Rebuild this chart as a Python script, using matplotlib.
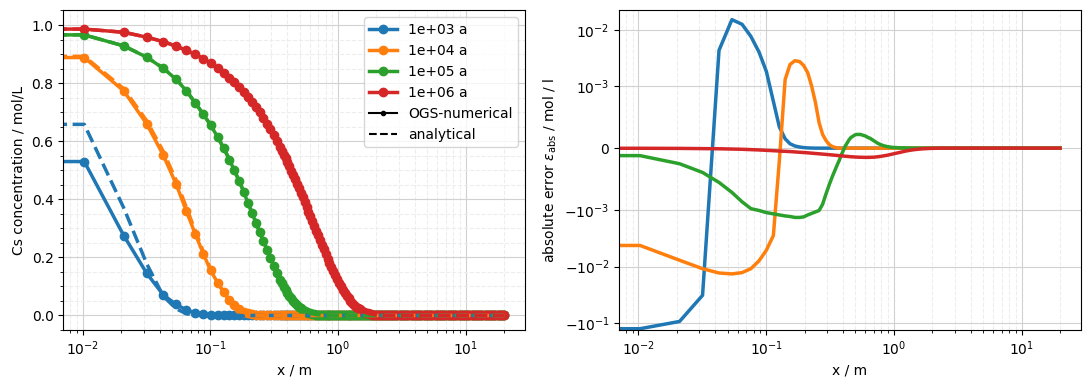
import numpy as np
import matplotlib.pyplot as plt
from matplotlib.lines import Line2D

# output times in years
times = [1e3, 1e4, 1e5, 1e6]

# mesh points (m): fine near the inlet, the front region, and the tail where everything is ~0
x_near = [0, 0.0103, 0.021, 0.0318, 0.0428, 0.054, 0.0648, 0.076, 0.088, 0.1005,
          0.114, 0.127, 0.141, 0.154, 0.168, 0.183, 0.197, 0.212, 0.227, 0.243,
          0.26, 0.277, 0.295, 0.313, 0.331]
x_mid = [0.35, 0.362, 0.375, 0.388, 0.402, 0.416, 0.43, 0.445, 0.461, 0.477,
         0.494, 0.511, 0.529, 0.548, 0.567, 0.587, 0.607, 0.628, 0.65, 0.673,
         0.697, 0.721, 0.746, 0.772, 0.8, 0.828, 0.857, 0.887, 0.918, 0.95,
         0.983, 1.017, 1.053, 1.09, 1.128, 1.168, 1.209, 1.251, 1.295, 1.34,
         1.387, 1.436, 1.486, 1.538, 1.592, 1.648, 1.705, 1.765, 1.827, 1.891,
         1.957, 2.025, 2.096, 2.17, 2.245]
x_tail = [2.32, 2.41, 2.5, 2.6, 2.7, 2.81, 2.92, 3.04, 3.16, 3.29, 3.42, 3.56,
          3.7, 3.85, 4.0, 4.16, 4.33, 4.5, 4.68, 4.87, 5.07, 5.27, 5.48, 5.7,
          5.93, 6.17, 6.41, 6.67, 6.94, 7.21, 7.5, 7.8, 8.12, 8.44, 8.78, 9.13,
          9.5, 9.88, 10.27, 10.68, 11.11, 11.55, 12.01, 12.49, 12.99, 13.51,
          14.05, 14.61, 15.2, 15.8, 16.44, 17.1, 17.78, 18.49, 19.23, 20.0]

# OGS numerical Cs concentration (mol/L)
c_1e3 = [0.53, 0.53, 0.275, 0.145, 0.071, 0.038, 0.019, 0.0085, 0.0045, 0.0021,
         0.0009, 0.0004, 0.00017, 0.00008, 0.00004, 0.00002, 0.00001, 0.000005, 0.000003]
c_1e4 = [0.888, 0.888, 0.773, 0.659, 0.552, 0.452, 0.36, 0.282, 0.213, 0.155,
         0.113, 0.080, 0.054, 0.036, 0.022, 0.013, 0.0075, 0.004, 0.002, 0.001,
         0.0005, 0.00025, 0.00013, 0.00006, 0.00003, 0.00001]
c_1e5 = [0.966, 0.966, 0.928, 0.889, 0.851, 0.813, 0.774, 0.732, 0.693, 0.655,
         0.615, 0.575, 0.537, 0.50, 0.462, 0.425, 0.387, 0.353, 0.320, 0.287,
         0.256, 0.227, 0.199, 0.172, 0.147,
         0.123, 0.111, 0.099, 0.087, 0.077, 0.068, 0.059, 0.051, 0.043, 0.036,
         0.030, 0.025, 0.020, 0.016, 0.0128, 0.010, 0.0078, 0.006, 0.0046, 0.0034,
         0.0025, 0.0018, 0.0013, 0.0009, 0.0006, 0.0004, 0.00027, 0.00018, 0.00012, 0.00008,
         0.00005, 0.00003, 0.00002, 0.00001]
c_1e6 = [0.989, 0.986, 0.975, 0.958, 0.943, 0.927, 0.913, 0.899, 0.884, 0.868,
         0.851, 0.835, 0.818, 0.803, 0.786, 0.768, 0.752, 0.734, 0.717, 0.699,
         0.679, 0.660, 0.641, 0.621, 0.601,
         0.581, 0.568, 0.554, 0.541, 0.527, 0.513, 0.499, 0.484, 0.469, 0.454,
         0.438, 0.423, 0.407, 0.390, 0.374, 0.358, 0.342, 0.326, 0.309, 0.292,
         0.276, 0.260, 0.244, 0.228, 0.212, 0.196, 0.181, 0.166, 0.152, 0.1385,
         0.1254, 0.1129, 0.1008, 0.0894, 0.0787, 0.0688, 0.0598, 0.0515, 0.0438, 0.0369,
         0.0308, 0.0252, 0.0207, 0.0167, 0.0132, 0.0103, 0.0080, 0.0059, 0.0045, 0.0034,
         0.0024, 0.0017, 0.0012, 0.0008, 0.0005]

# absolute error numerical - analytical (mol/l)
err_1e3 = [-0.128, -0.128, -0.095, -0.0325, 0.0043, 0.0151, 0.0125, 0.0076, 0.0040, 0.0018,
           0.00075, 0.00034, 0.00015, 0.00007, 0.000035, 0.000018, 0.000009, 0.000004, 0.000002]
err_1e4 = [-0.0042, -0.0042, -0.0077, -0.0109, -0.013, -0.0135, -0.0128, -0.0109, -0.0079, -0.0051,
           -0.0028, -0.0002, 0.0013, 0.0024, 0.0028, 0.0027, 0.0023, 0.0017, 0.0010, 0.00074,
           0.00041, 0.00022, 0.00012, 0.000056, 0.000025, 0.00001]
err_1e5 = [-0.00012, -0.00012, -0.00025, -0.00039, -0.00055, -0.00071, -0.00086, -0.00097, -0.0010, -0.00109,
           -0.00115, -0.0012, -0.00125, -0.00128, -0.00133, -0.00133, -0.0013, -0.0012, -0.00113, -0.00106,
           -0.0010, -0.0009, -0.00073, -0.00058, -0.00045,
           -0.00033, -0.00026, -0.00019, -0.00011, -0.00004, 0.00003, 0.00008, 0.00013, 0.00017, 0.00019,
           0.00021, 0.00022, 0.00022, 0.00022, 0.00021, 0.0002, 0.00019, 0.00017, 0.00016, 0.00014,
           0.00012, 0.0001, 0.00008, 0.000065, 0.000052, 0.00004, 0.000032, 0.000025, 0.00002, 0.000016,
           0.000012, 0.00001, 0.000008, 0.000006, 0.000005, 0.000004, 0.000003, 0.000002]
err_1e6 = [0.0, -0.000002, -0.000004, -0.000007, -0.00001, -0.000014, -0.000018, -0.000023, -0.000029, -0.000035,
           -0.00004, -0.000045, -0.00005, -0.000055, -0.00006, -0.000065, -0.00007, -0.000075, -0.00008, -0.000085,
           -0.00009, -0.000095, -0.0001, -0.000105, -0.00011,
           -0.000115, -0.000118, -0.000121, -0.000124, -0.000127, -0.00013, -0.000133, -0.000135, -0.000138, -0.00014,
           -0.000142, -0.000144, -0.000145, -0.000146, -0.000147, -0.000148, -0.000148, -0.000148, -0.000147, -0.000146,
           -0.000145, -0.000142, -0.000139, -0.000135, -0.00013, -0.000125, -0.00012, -0.000114, -0.000107, -0.0001,
           -0.000093, -0.000086, -0.000079, -0.000072, -0.000065, -0.000058, -0.000051, -0.000045, -0.000039, -0.000034,
           -0.000029, -0.000025, -0.000021, -0.000018, -0.000015, -0.000012, -0.00001, -0.000008, -0.000006, -0.000005,
           -0.000004, -0.000003, -0.000002, -0.0000015, -0.000001]

x = np.array(x_near + x_mid + x_tail)


def pad(vals):
    # values beyond the listed ones are zero
    return np.array(vals + [0.0] * (len(x) - len(vals)))


c_num = [pad(c) for c in (c_1e3, c_1e4, c_1e5, c_1e6)]
c_err = [pad(e) for e in (err_1e3, err_1e4, err_1e5, err_1e6)]
c_ana = [c - e for c, e in zip(c_num, c_err)]

fig, (ax1, ax2) = plt.subplots(1, 2, figsize=(10.89, 3.9), dpi=100)
fig.subplots_adjust(left=0.0581, right=0.9926, bottom=0.1538, top=0.9731, wspace=0.2032)

for i, t in enumerate(times):
    ax1.plot(x, c_num[i], marker='o', ms=6, lw=2.5, color=f'C{i}', label=f'{t:.0e} a')
for i, t in enumerate(times):
    ax1.plot(x, c_ana[i], ls='--', lw=2.5, color=f'C{i}')
ax1.set_xscale('log')
ax1.set_ylim(-0.05, 1.05)
ax1.minorticks_on()
ax1.set_xlabel('x / m')
ax1.set_ylabel('Cs concentration / mol/L')

handles, labels = ax1.get_legend_handles_labels()
handles += [Line2D([], [], color='k', marker='.', lw=1.5, label='OGS-numerical'),
            Line2D([], [], color='k', ls='--', lw=1.5, label='analytical')]
ax1.legend(handles=handles, loc='upper right')

for i, t in enumerate(times):
    ax2.plot(x, c_err[i], lw=2.5, color=f'C{i}')
ax2.set_xscale('log')
ax2.set_yscale('symlog', linthresh=1e-3)
ax2.set_ylim(-0.135, 0.022)
ax2.set_xlabel('x / m')
ax2.set_ylabel(r'absolute error $\varepsilon_\mathrm{abs}$ / mol / l')

for ax in (ax1, ax2):
    ax.grid(which='major', color='0.82')
    ax.grid(which='minor', ls='--', color='0.93')

fig.savefig('out.png', dpi=100)
